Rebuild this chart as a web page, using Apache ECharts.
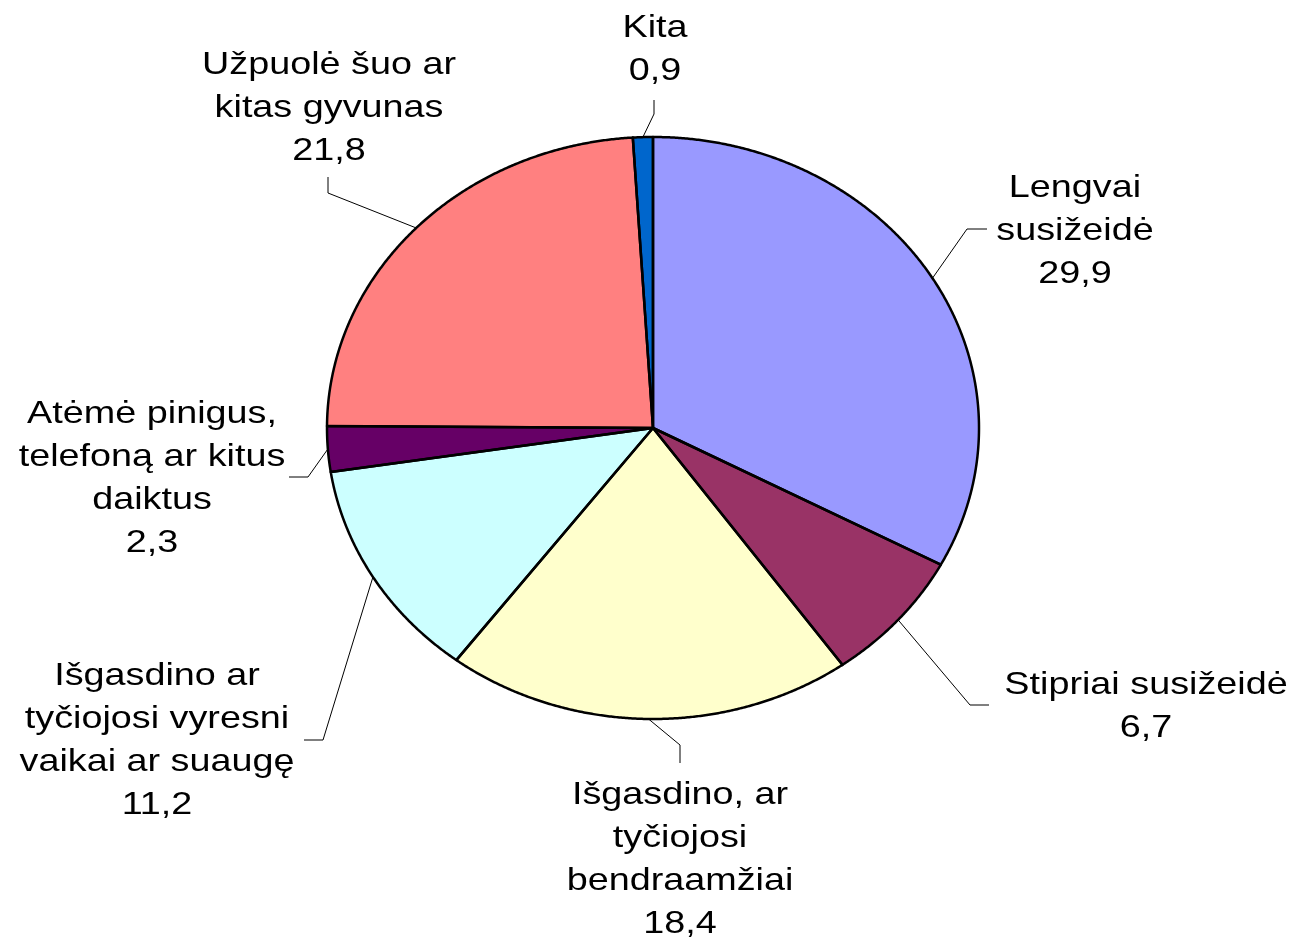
<!DOCTYPE html>
<html>
<head>
<meta charset="utf-8">
<script src="https://cdn.jsdelivr.net/npm/echarts@6/dist/echarts.min.js"></script>
<style>
  html, body { margin: 0; padding: 0; background: #fff; }
  #chart-panel { width: 1298px; height: 942px; }
</style>
</head>
<body>
<div id="chart-panel"></div>
<script>
// data
const categories = [
  "Lengvai\nsusižeidė",
  "Stipriai susižeidė",
  "Išgasdino, ar\ntyčiojosi\nbendraamžiai",
  "Išgasdino ar\ntyčiojosi vyresni\nvaikai ar suaugę",
  "Atėmė pinigus,\ntelefoną ar kitus\ndaiktus",
  "Užpuolė šuo ar\nkitas gyvunas",
  "Kita"
]
const values = [29.9, 6.7, 18.4, 11.2, 2.3, 21.8, 0.9]
const colors = ["#9999ff", "#993366", "#ffffcc", "#ccffff", "#660066", "#ff8080", "#0066cc"]

// layout: label center, leader elbow and end
const labelPos = [[1075, 231], [1146, 707], [680, 860], [157, 741], [152, 479], [329, 108], [655, 50]]
const leaderPts = [
  [[967, 229], [987, 229]],
  [[970, 705], [989, 705]],
  [[680, 745], [680, 763]],
  [[323, 740], [304, 740]],
  [[308, 477], [289, 477]],
  [[328, 193], [328, 177]],
  [[654, 114], [654, 100]]
]
const cx = 653, cy = 428, rx = 326, ry = 291
const total = values.reduce((a, b) => a + b, 0)
const starts = []
let acc = 0
values.forEach(v => { starts.push(acc); acc += v })

const pt = (a) => [cx + rx * Math.sin(a), cy - ry * Math.cos(a)]
const fmt = (v) => v.toFixed(1).replace(".", ",")

const chart = echarts.init(document.getElementById("chart-panel"), null, { renderer: "canvas" })
const option = {
  backgroundColor: "#fff",
  animation: false,
  series: [
    {
      type: "custom",
      coordinateSystem: "none",
      data: values.map((v, i) => [i, v]),
      renderItem: (params, api) => {
        const i = params.dataIndex
        const a0 = starts[i] / total * Math.PI * 2
        const a1 = (starts[i] + api.value(1)) / total * Math.PI * 2
        const pts = [[cx, cy]]
        const n = Math.max(2, Math.ceil((a1 - a0) / 0.005))
        for (let k = 0; k <= n; k++) pts.push(pt(a0 + (a1 - a0) * k / n))
        const mid = pt((a0 + a1) / 2)
        const lp = labelPos[i]
        return {
          type: "group",
          children: [
            { type: "polygon", z2: 1, shape: { points: pts }, style: { fill: colors[i] } },
            { type: "polygon", z2: 5, shape: { points: pts }, style: { fill: null, stroke: "#000", lineWidth: 2.5, lineJoin: "round" } },
            {
              type: "polyline", z2: 6,
              shape: { points: [mid, leaderPts[i][0], leaderPts[i][1]] },
              style: { fill: null, stroke: "#000", lineWidth: 1 }
            },
            {
              type: "text", z2: 7,
              x: lp[0], y: lp[1], scaleX: 1.18,
              style: {
                text: categories[i] + "\n" + fmt(api.value(1)),
                fill: "#000",
                fontSize: 32,
                fontFamily: "'Liberation Sans', Arial, sans-serif",
                lineHeight: 43,
                align: "center",
                verticalAlign: "middle"
              }
            }
          ]
        }
      }
    }
  ]
}
chart.setOption(option)
</script>
</body>
</html>
